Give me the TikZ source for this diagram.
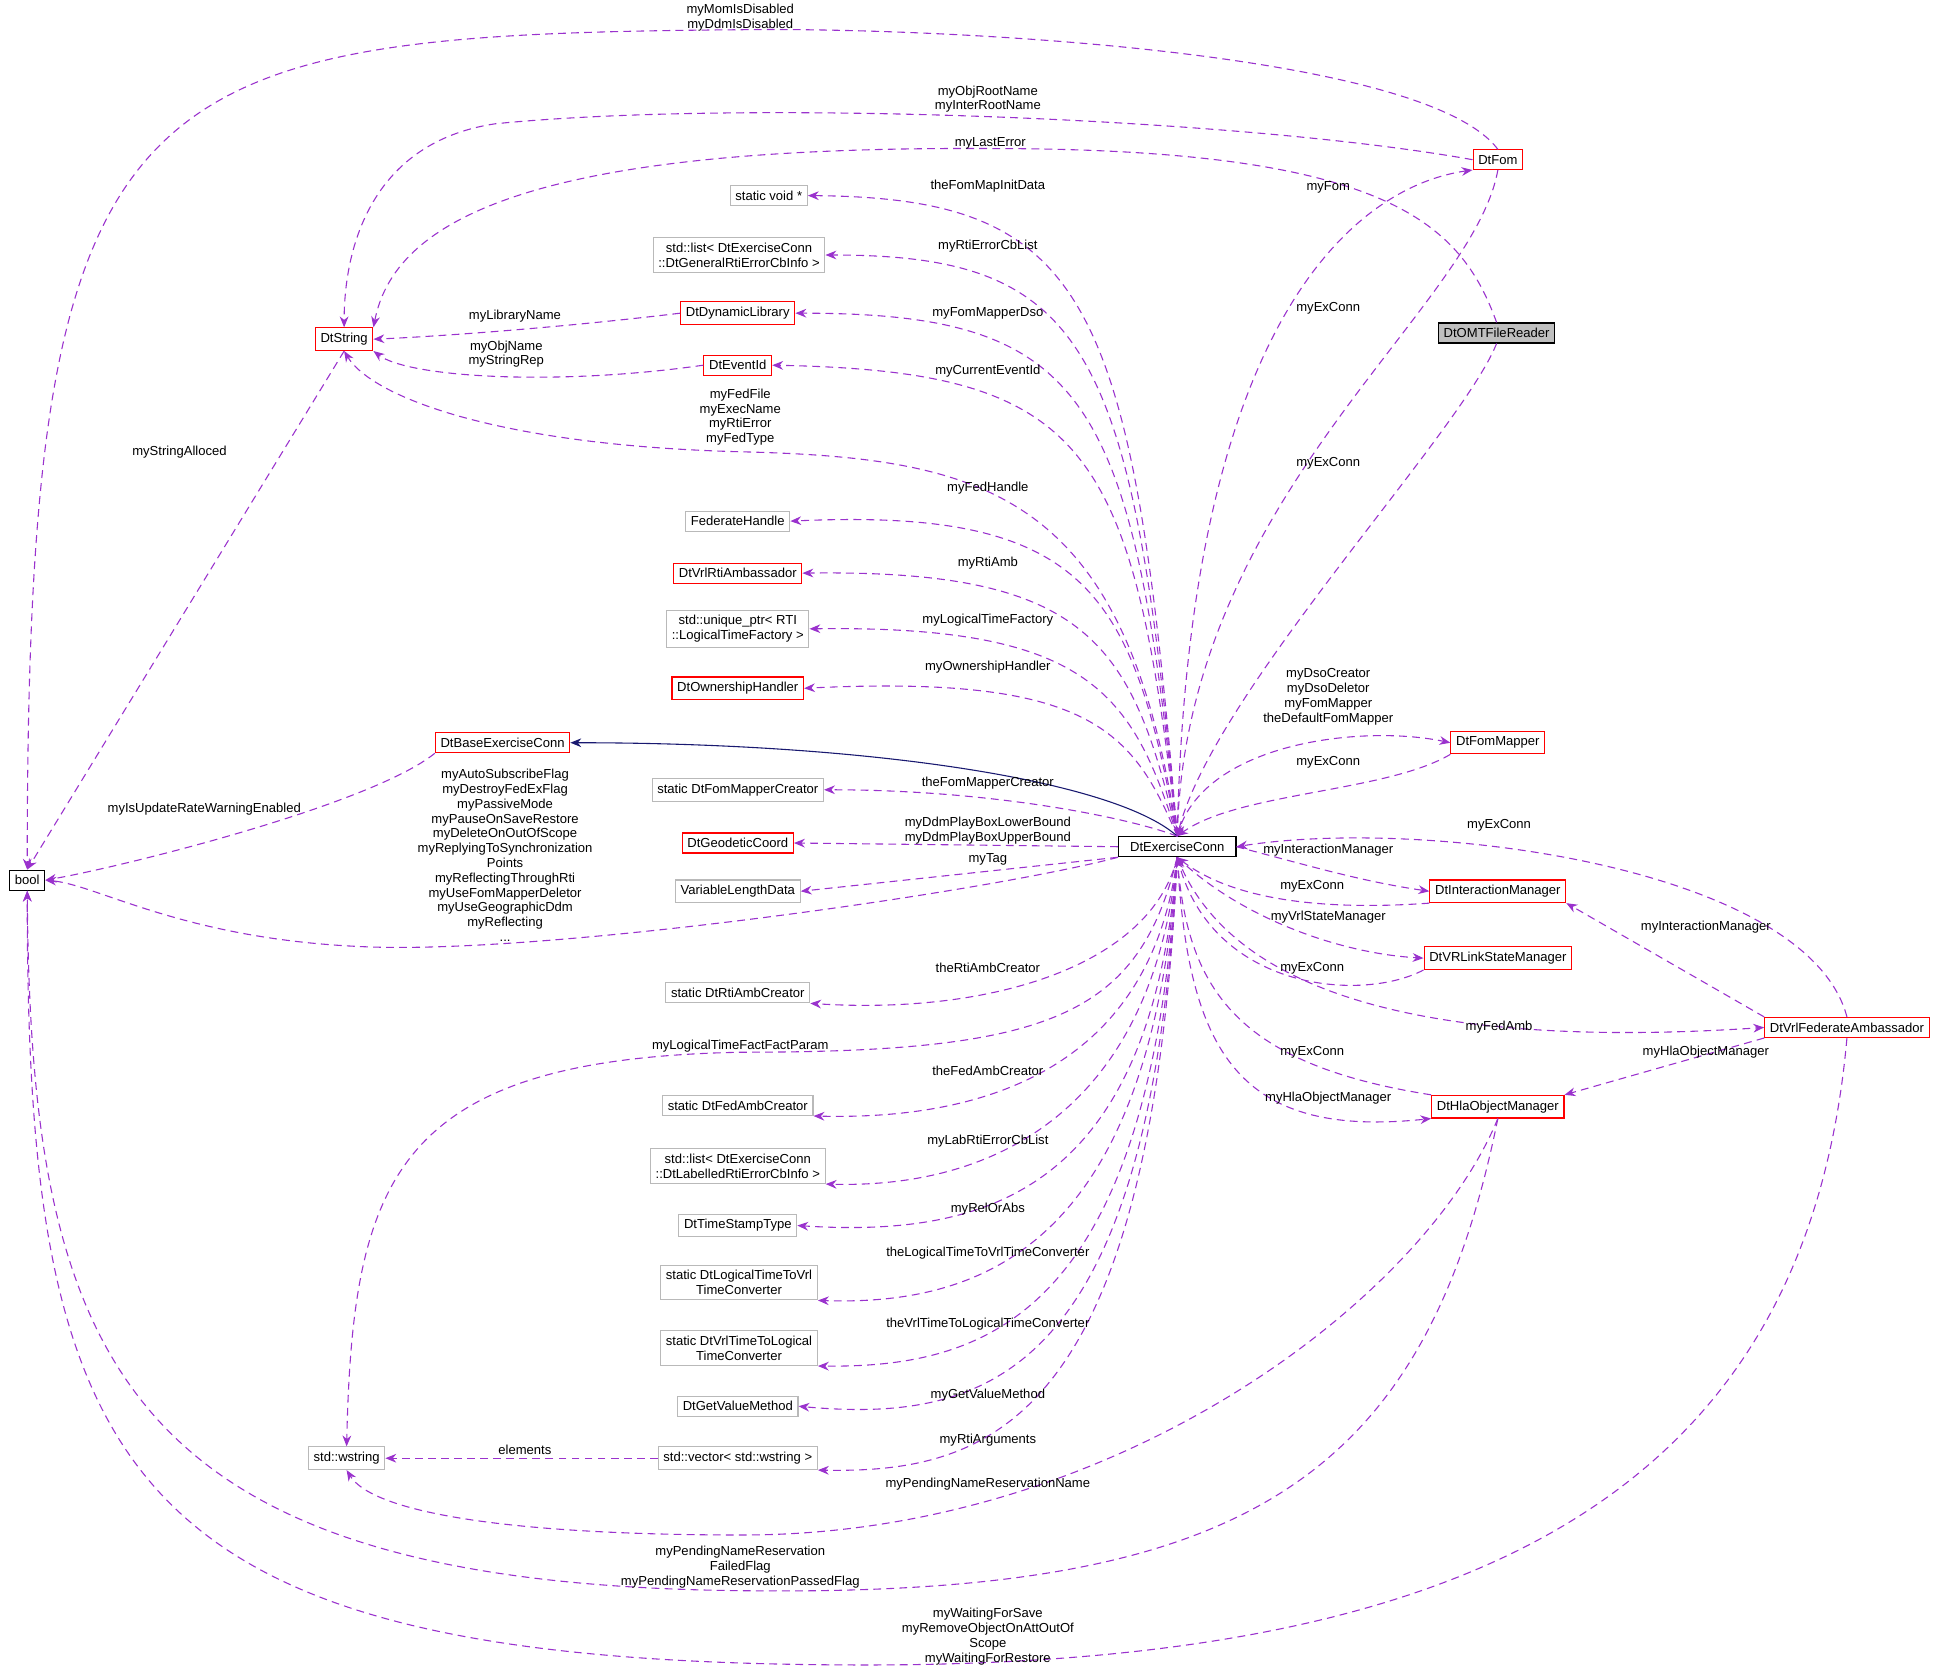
\documentclass[tikz,border=0pt]{standalone}
\usepackage{fontspec}
\setmainfont{Liberation Sans}
\usetikzlibrary{arrows.meta}
\definecolor{edgepurple}{HTML}{9A32CD}
\definecolor{edgenavy}{HTML}{191970}
\tikzset{
  cls/.style={draw=black, fill=white, rectangle, inner sep=2.4pt, line width=0.5pt, font=\fontsize{6}{6.8}\selectfont, align=center},
  redcls/.style={cls, draw=red},
  extcls/.style={cls, draw=gray!55},
  mem/.style={draw=edgepurple, dash pattern=on 3.6pt off 2.4pt, line width=0.5pt, -{Stealth[length=5pt,width=4pt]}},
  inh/.style={draw=edgenavy, line width=0.5pt, -{Stealth[length=5pt,width=4pt]}},
  lbl/.style={font=\fontsize{6}{6.8}\selectfont, align=center, inner sep=0pt},
}
\begin{document}
\begin{tikzpicture}[x=0.02cm, y=-0.02cm]
\useasboundingbox (0,0) rectangle (1568,1352);
%Nodes
\node[cls] (bool) at (22,711) {bool};
\node[redcls] (dstr) at (278,274) {DtString};
\node[redcls] (fom) at (1210,129) {DtFom};
\node[cls, fill=gray!50] (omt) at (1209,269) {DtOMTFileReader};
\node[extcls] (svoid) at (621,158) {static void *};
\node[extcls] (glist) at (597,206) {std::list< DtExerciseConn\\::DtGeneralRtiErrorCbInfo >};
\node[redcls] (dlib) at (596,253) {DtDynamicLibrary};
\node[redcls] (evid) at (596,295) {DtEventId};
\node[extcls] (fedh) at (596,421) {FederateHandle};
\node[redcls] (rtia) at (596,463) {DtVrlRtiAmbassador};
\node[extcls] (uptr) at (596,508) {std::unique\_ptr< RTI\\::LogicalTimeFactory >};
\node[redcls] (ownh) at (596,556) {DtOwnershipHandler};
\node[redcls] (base) at (406,600) {DtBaseExerciseConn};
\node[extcls] (fmc) at (596,638) {static DtFomMapperCreator};
\node[redcls] (geo) at (596,681) {DtGeodeticCoord};
\node[extcls] (vld) at (596,720) {VariableLengthData};
\node[cls, minimum width=54pt] (ec) at (951,684) {DtExerciseConn};
\node[redcls] (fmap) at (1210,600) {DtFomMapper};
\node[redcls] (intm) at (1210,720) {DtInteractionManager};
\node[redcls] (vrls) at (1210,774) {DtVRLinkStateManager};
\node[redcls] (vfa) at (1492,830) {DtVrlFederateAmbassador};
\node[redcls] (hom) at (1210,894) {DtHlaObjectManager};
\node[extcls] (rac) at (596,802) {static DtRtiAmbCreator};
\node[extcls] (fac) at (596,893) {static DtFedAmbCreator};
\node[extcls] (llist) at (596,942) {std::list< DtExerciseConn\\::DtLabelledRtiErrorCbInfo >};
\node[extcls] (tst) at (596,990) {DtTimeStampType};
\node[extcls] (ltv) at (597,1036) {static DtLogicalTimeToVrl\\TimeConverter};
\node[extcls] (vtl) at (597,1089) {static DtVrlTimeToLogical\\TimeConverter};
\node[extcls] (gvm) at (596,1136) {DtGetValueMethod};
\node[extcls] (vec) at (596,1178) {std::vector< std::wstring >};
\node[extcls] (wstr) at (280,1178) {std::wstring};

%Lines
\draw[mem] (fom.north) .. controls (1150,40) and (750,22) .. (600,24) .. controls (100,28) and (22,60) .. (bool.north);
\draw[mem] (fom.west) .. controls (1000,95) and (600,80) .. (400,100) .. controls (300,115) and (278,200) .. (dstr.north);
\draw[mem] (omt.north) .. controls (1180,180) and (1120,120) .. (800,120) .. controls (450,118) and (320,170) .. (dstr.north east);
\draw[mem] (ec.north) .. controls (960,250) and (1100,150) .. (fom.south west);
\draw[mem] (fom.south) .. controls (1190,250) and (960,400) .. (ec.north);
\draw[mem] (omt.south) .. controls (1180,350) and (980,560) .. (ec.north);
\draw[mem] (ec.north) .. controls (915,240) and (880,160) .. (svoid.east);
\draw[mem] (ec.north) .. controls (915,280) and (880,206) .. (glist.east);
\draw[mem] (ec.north) .. controls (915,320) and (880,253) .. (dlib.east);
\draw[mem] (ec.north) .. controls (915,360) and (880,300) .. (evid.east);
\draw[mem] (dlib.west) .. controls (450,265) and (350,272) .. (dstr.east);
\draw[mem] (evid.west) .. controls (450,312) and (330,305) .. (dstr.south east);
\draw[mem] (ec.north) .. controls (910,400) and (800,370) .. (600,365) .. controls (400,360) and (300,320) .. (dstr.south);
\draw[mem] (dstr.south) -- (bool.north);
\draw[mem] (ec.north) .. controls (915,480) and (880,410) .. (fedh.east);
\draw[mem] (ec.north) .. controls (915,520) and (880,460) .. (rtia.east);
\draw[mem] (ec.north) .. controls (915,560) and (880,505) .. (uptr.east);
\draw[mem] (ec.north) .. controls (915,590) and (880,545) .. (ownh.east);
\draw[inh] (ec.north) .. controls (900,630) and (700,600) .. (base.east);
\draw[mem] (base.south west) .. controls (300,650) and (100,700) .. (bool.east);
\draw[mem] (ec.north) .. controls (910,660) and (800,638) .. (fmc.east);
\draw[mem] (ec.west) -- (geo.east);
\draw[mem] (ec.south west) -- (vld.east);
\draw[mem] (ec.south west) .. controls (800,720) and (450,770) .. (300,765) .. controls (150,760) and (80,715) .. (bool.east);
\draw[mem] (ec.north) .. controls (970,600) and (1100,585) .. (fmap.west);
\draw[mem] (fmap.south west) .. controls (1120,640) and (1000,640) .. (ec.north);
\draw[mem] (ec.east) .. controls (1060,700) and (1100,712) .. (intm.west);
\draw[mem] (intm.south west) .. controls (1080,735) and (1000,730) .. (ec.south);
\draw[mem] (ec.south) .. controls (1000,740) and (1080,770) .. (vrls.west);
\draw[mem] (vrls.south west) .. controls (1100,810) and (980,800) .. (ec.south);
\draw[mem] (vfa.north) .. controls (1460,700) and (1150,660) .. (ec.east);
\draw[mem] (vfa.north west) -- (intm.south east);
\draw[mem] (ec.south) .. controls (1000,820) and (1200,845) .. (vfa.west);
\draw[mem] (vfa.south west) -- (hom.north east);
\draw[mem] (hom.north west) .. controls (1000,860) and (960,800) .. (ec.south);
\draw[mem] (ec.south) .. controls (960,850) and (1000,920) .. (hom.south west);
\draw[mem] (ec.south) .. controls (930,780) and (800,820) .. (rac.south east);
\draw[mem] (ec.south) .. controls (920,820) and (850,850) .. (600,850) .. controls (320,855) and (285,950) .. (wstr.north);
\draw[mem] (ec.south) .. controls (930,860) and (800,905) .. (fac.south east);
\draw[mem] (ec.south) .. controls (930,900) and (800,960) .. (llist.south east);
\draw[mem] (ec.south) .. controls (930,960) and (800,1000) .. (tst.east);
\draw[mem] (ec.south) .. controls (930,1000) and (800,1055) .. (ltv.south east);
\draw[mem] (ec.south) .. controls (930,1060) and (800,1105) .. (vtl.south east);
\draw[mem] (ec.south) .. controls (930,1110) and (800,1150) .. (gvm.east);
\draw[mem] (ec.south) .. controls (930,1150) and (800,1190) .. (vec.south east);
\draw[mem] (vec.west) -- (wstr.east);
\draw[mem] (hom.south) .. controls (1150,1050) and (900,1240) .. (600,1240) .. controls (400,1240) and (300,1220) .. (wstr.south);
\draw[mem] (hom.south) .. controls (1150,1200) and (1000,1290) .. (600,1285) .. controls (100,1280) and (25,1100) .. (bool.south);
\draw[mem] (vfa.south) .. controls (1460,1200) and (1200,1345) .. (700,1345) .. controls (100,1345) and (22,1200) .. (bool.south);

%Labels
\node[lbl] at (598,14) {myMomIsDisabled\\myDdmIsDisabled};
\node[lbl] at (798,80) {myObjRootName\\myInterRootName};
\node[lbl] at (800,116) {myLastError};
\node[lbl] at (1073,151) {myFom};
\node[lbl] at (1073,249) {myExConn};
\node[lbl] at (1073,374) {myExConn};
\node[lbl] at (798,150) {theFomMapInitData};
\node[lbl] at (798,199) {myRtiErrorCbList};
\node[lbl] at (798,253) {myFomMapperDso};
\node[lbl] at (798,300) {myCurrentEventId};
\node[lbl] at (416,255) {myLibraryName};
\node[lbl] at (409,286) {myObjName\\myStringRep};
\node[lbl] at (598,337) {myFedFile\\myExecName\\myRtiError\\myFedType};
\node[lbl] at (145,365) {myStringAlloced};
\node[lbl] at (798,394) {myFedHandle};
\node[lbl] at (798,455) {myRtiAmb};
\node[lbl] at (798,501) {myLogicalTimeFactory};
\node[lbl] at (798,539) {myOwnershipHandler};
\node[lbl] at (165,654) {myIsUpdateRateWarningEnabled};
\node[lbl] at (798,633) {theFomMapperCreator};
\node[lbl] at (798,671) {myDdmPlayBoxLowerBound\\myDdmPlayBoxUpperBound};
\node[lbl] at (798,694) {myTag};
\node[lbl] at (408,691) {myAutoSubscribeFlag\\myDestroyFedExFlag\\myPassiveMode\\myPauseOnSaveRestore\\myDeleteOnOutOfScope\\myReplyingToSynchronization\\Points\\myReflectingThroughRti\\myUseFomMapperDeletor\\myUseGeographicDdm\\myReflecting\\...};
\node[lbl] at (1073,563) {myDsoCreator\\myDsoDeletor\\myFomMapper\\theDefaultFomMapper};
\node[lbl] at (1073,616) {myExConn};
\node[lbl] at (1073,687) {myInteractionManager};
\node[lbl] at (1060,716) {myExConn};
\node[lbl] at (1073,741) {myVrlStateManager};
\node[lbl] at (1060,782) {myExConn};
\node[lbl] at (1211,667) {myExConn};
\node[lbl] at (1378,749) {myInteractionManager};
\node[lbl] at (1211,830) {myFedAmb};
\node[lbl] at (1378,850) {myHlaObjectManager};
\node[lbl] at (1060,850) {myExConn};
\node[lbl] at (1073,887) {myHlaObjectManager};
\node[lbl] at (798,782) {theRtiAmbCreator};
\node[lbl] at (598,845) {myLogicalTimeFactFactParam};
\node[lbl] at (798,865) {theFedAmbCreator};
\node[lbl] at (798,922) {myLabRtiErrorCbList};
\node[lbl] at (798,977) {myRelOrAbs};
\node[lbl] at (798,1012) {theLogicalTimeToVrlTimeConverter};
\node[lbl] at (798,1070) {theVrlTimeToLogicalTimeConverter};
\node[lbl] at (798,1127) {myGetValueMethod};
\node[lbl] at (798,1163) {myRtiArguments};
\node[lbl] at (424,1171) {elements};
\node[lbl] at (798,1199) {myPendingNameReservationName};
\node[lbl] at (598,1266) {myPendingNameReservation\\FailedFlag\\myPendingNameReservationPassedFlag};
\node[lbl] at (798,1322) {myWaitingForSave\\myRemoveObjectOnAttOutOf\\Scope\\myWaitingForRestore};
\end{tikzpicture}
\end{document}
